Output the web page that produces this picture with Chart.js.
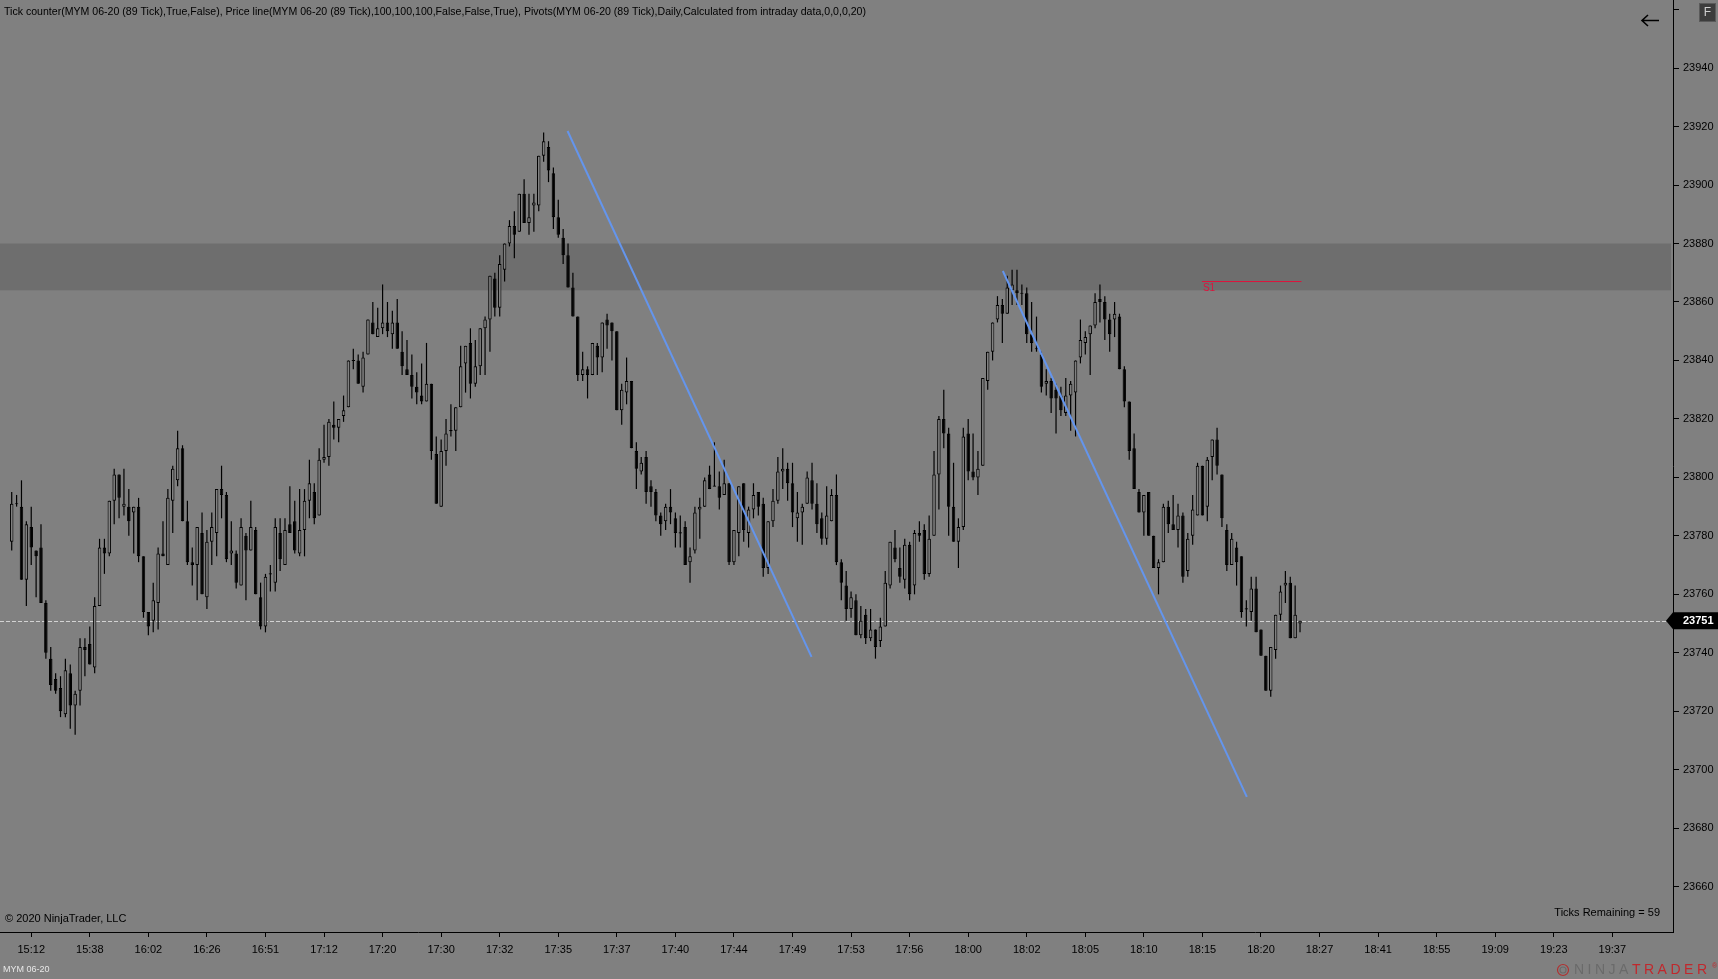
<!DOCTYPE html>
<html><head><meta charset="utf-8">
<script src="https://cdn.jsdelivr.net/npm/chart.js@4.4.1/dist/chart.umd.min.js"></script>
<style>html,body{margin:0;padding:0;background:#808080;overflow:hidden}canvas{display:block}</style>
</head><body>
<canvas id="c" width="1718" height="979"></canvas>
<script>
// ---- data (MYM 06-20, 89 tick bars) ----
const opens = [23778,23791,23790,23765,23783,23775,23776,23757,23738,23731,23728,23719,23733,23722,23727,23742,23743,23735,23756,23776,
23774,23792,23801,23790,23790,23788,23790,23773,23754,23751,23757,23774,23770,23792,23799,23810,23785,23771,23770,23781,
23759,23778,23781,23796,23794,23774,23774,23763,23780,23775,23782,23759,23749,23767,23764,23781,23770,23784,23785,23774,
23782,23792,23795,23787,23806,23807,23818,23817,23821,23824,23840,23840,23831,23842,23853,23848,23851,23853,23849,23853,
23843,23837,23835,23831,23828,23826,23832,23808,23790,23809,23816,23816,23824,23839,23846,23832,23838,23851,23854,23868,
23858,23871,23880,23886,23884,23897,23887,23893,23893,23910,23913,23904,23889,23882,23876,23865,23855,23835,23837,23835,
23845,23841,23854,23853,23850,23823,23829,23833,23809,23802,23807,23797,23795,23787,23785,23790,23786,23781,23783,23771,
23775,23789,23790,23801,23797,23797,23794,23798,23771,23781,23798,23781,23789,23795,23791,23769,23785,23792,23802,23803,
23798,23786,23788,23791,23799,23791,23786,23779,23785,23794,23771,23763,23755,23758,23746,23753,23745,23748,23744,23749,
23763,23776,23769,23765,23777,23763,23781,23782,23767,23780,23801,23820,23815,23790,23778,23783,23815,23802,23800,23804,
23833,23843,23854,23859,23856,23864,23864,23863,23863,23849,23844,23842,23832,23833,23830,23828,23822,23828,23829,23841,
23846,23849,23852,23861,23860,23854,23854,23855,23837,23826,23810,23795,23788,23795,23780,23769,23771,23790,23784,23782,
23787,23768,23780,23787,23804,23790,23807,23813,23801,23782,23770,23776,23773,23755,23754,23762,23748,23739,23727,23741,
23753,23763,23764,23745,23750];
const highs = [23795,23794,23799,23785,23790,23775,23784,23758,23742,23733,23732,23738,23736,23727,23745,23745,23749,23759,23779,23779,
23792,23803,23801,23803,23796,23790,23793,23773,23754,23764,23776,23785,23796,23804,23816,23811,23792,23776,23783,23788,
23782,23788,23796,23804,23795,23785,23775,23786,23781,23792,23783,23764,23767,23770,23786,23786,23786,23797,23792,23796,
23796,23806,23798,23810,23818,23820,23826,23820,23828,23840,23844,23842,23843,23854,23860,23858,23866,23860,23857,23861,
23850,23847,23842,23836,23839,23846,23832,23814,23813,23820,23825,23824,23845,23845,23851,23847,23851,23855,23869,23870,
23876,23880,23888,23891,23897,23902,23897,23897,23910,23918,23915,23906,23895,23885,23880,23870,23855,23843,23838,23846,
23846,23853,23856,23853,23850,23832,23841,23833,23812,23807,23809,23799,23796,23788,23791,23796,23788,23787,23785,23776,
23790,23793,23800,23804,23812,23802,23806,23798,23782,23797,23798,23790,23798,23795,23793,23785,23796,23807,23810,23805,
23805,23795,23791,23802,23805,23798,23788,23797,23796,23801,23772,23768,23761,23760,23756,23755,23755,23748,23752,23768,
23778,23782,23776,23779,23778,23782,23785,23784,23787,23809,23821,23830,23817,23805,23786,23817,23820,23815,23809,23834,
23843,23853,23862,23861,23869,23871,23871,23866,23865,23860,23855,23843,23837,23834,23832,23831,23834,23833,23840,23854,
23850,23852,23863,23866,23862,23856,23860,23856,23838,23826,23815,23796,23794,23795,23780,23772,23791,23792,23794,23791,
23788,23781,23794,23805,23804,23807,23813,23817,23801,23784,23781,23778,23773,23758,23766,23766,23748,23739,23742,23753,
23763,23768,23766,23763,23751];
const lows = [23775,23790,23765,23756,23770,23759,23757,23738,23727,23726,23718,23718,23714,23712,23722,23732,23736,23733,23756,23767,
23773,23784,23786,23787,23780,23774,23771,23752,23746,23747,23748,23773,23770,23781,23797,23785,23770,23763,23758,23760,
23755,23770,23773,23786,23771,23770,23762,23763,23758,23775,23760,23748,23747,23761,23761,23768,23770,23781,23774,23773,
23773,23786,23784,23787,23805,23804,23813,23812,23819,23824,23837,23832,23829,23842,23849,23848,23849,23848,23844,23844,
23835,23835,23827,23825,23825,23826,23806,23791,23790,23804,23814,23809,23824,23829,23827,23831,23835,23835,23843,23855,
23855,23867,23879,23875,23884,23887,23883,23884,23891,23908,23901,23885,23882,23873,23865,23855,23833,23833,23827,23835,
23835,23836,23844,23840,23823,23818,23825,23810,23796,23801,23791,23790,23785,23780,23782,23784,23776,23776,23770,23764,
23774,23779,23790,23796,23797,23789,23794,23770,23770,23773,23778,23776,23786,23787,23766,23767,23783,23791,23796,23792,
23783,23778,23777,23791,23789,23781,23777,23777,23785,23770,23758,23751,23752,23746,23745,23743,23744,23738,23742,23749,
23762,23771,23764,23762,23758,23760,23778,23765,23766,23780,23789,23810,23780,23778,23769,23782,23799,23799,23794,23804,
23830,23840,23853,23846,23856,23859,23859,23859,23846,23843,23843,23829,23828,23822,23815,23821,23821,23816,23814,23839,
23842,23835,23851,23853,23847,23843,23848,23837,23824,23806,23796,23788,23780,23780,23769,23760,23771,23781,23782,23776,
23764,23766,23777,23787,23787,23785,23799,23801,23783,23768,23770,23763,23752,23749,23751,23747,23739,23727,23725,23738,
23751,23757,23745,23745,23747];
const closes = [23791,23791,23765,23784,23776,23773,23757,23740,23729,23727,23720,23734,23722,23726,23742,23741,23736,23756,23776,23774,
23792,23801,23793,23791,23785,23790,23773,23754,23749,23758,23774,23773,23793,23803,23810,23785,23771,23770,23783,23760,
23778,23783,23796,23794,23772,23775,23764,23783,23775,23783,23760,23749,23766,23767,23783,23772,23782,23781,23775,23782,
23792,23798,23786,23806,23807,23819,23817,23820,23823,23840,23840,23832,23841,23854,23849,23851,23853,23850,23853,23844,
23838,23835,23831,23829,23826,23832,23809,23791,23809,23815,23816,23824,23838,23845,23832,23838,23851,23854,23869,23858,
23873,23880,23886,23883,23897,23887,23889,23894,23910,23915,23905,23889,23883,23876,23865,23855,23835,23837,23835,23846,
23841,23853,23852,23850,23823,23830,23833,23810,23803,23805,23795,23795,23787,23784,23790,23788,23781,23781,23770,23773,
23788,23790,23799,23796,23797,23793,23798,23771,23782,23797,23782,23789,23794,23790,23769,23785,23792,23802,23803,23798,
23788,23788,23790,23800,23791,23784,23779,23787,23794,23771,23764,23755,23759,23746,23751,23745,23748,23742,23749,23764,
23778,23772,23766,23777,23760,23781,23780,23767,23779,23801,23820,23815,23790,23778,23783,23814,23802,23800,23803,23834,
23843,23853,23859,23856,23865,23866,23863,23863,23849,23846,23844,23831,23833,23827,23827,23823,23828,23832,23840,23847,
23848,23852,23860,23860,23854,23849,23856,23837,23826,23809,23796,23788,23794,23780,23769,23771,23790,23784,23782,23787,
23766,23779,23789,23804,23787,23806,23813,23804,23786,23770,23779,23771,23754,23755,23762,23747,23739,23727,23742,23753,
23761,23764,23745,23753,23751];

const timeLabels = ['15:12','15:38','16:02','16:26','16:51','17:12','17:20','17:30','17:32','17:35','17:37','17:40','17:44','17:49',
'17:53','17:56','18:00','18:02','18:05','18:10','18:15','18:20','18:27','18:41','18:55','19:09','19:23','19:37'];
const timeTickIndex = [4,16,28,40,52,64,76,88,100,112,124,136,148,160,172,184,196,208,220,232,244,256,268,280,292,304,316,328];
const priceTicks = [23660,23680,23700,23720,23740,23760,23780,23800,23820,23840,23860,23880,23900,23920,23940,23960];

const trendLine1 = [{x:113.9, y:23918.5}, {x:163.9, y:23738.6}];
const trendLine2 = [{x:203.1, y:23870.6}, {x:253.1, y:23690.7}];
const pivotS1 = [{x:243.9, y:23867}, {x:264.3, y:23867}];
const zoneLow = 23864, zoneHigh = 23880;
const lastPrice = 23751;
const ticksRemaining = 59;

// ---- build library structures ----
const wickData = opens.map((o, i) => ({x: i, y: [lows[i], highs[i]]}));
const bodyData = opens.map((o, i) => {
  let a = o, b = closes[i];
  if (a === b) { a -= 0.2; b += 0.2; }
  return {x: i, y: [a, b]};
});
const bodyFill = opens.map((o, i) => closes[i] > o ? '#808080' : '#000000');

const FONT = '"Liberation Sans", Arial, sans-serif';
Chart.defaults.font.family = FONT;
Chart.defaults.font.size = 11;
Chart.defaults.color = '#000';

const decor = {
  id: 'decor',
  beforeDraw(chart) {
    const ctx = chart.ctx;
    ctx.save();
    ctx.fillStyle = '#808080';
    ctx.fillRect(0, 0, chart.width, chart.height);
    ctx.restore();
  },
  beforeDatasetsDraw(chart) {
    const {ctx, chartArea: a, scales: {y}} = chart;
    const t = y.getPixelForValue(zoneHigh), b = y.getPixelForValue(zoneLow);
    ctx.save();
    ctx.fillStyle = '#6e6e6e';
    ctx.fillRect(a.left, t, a.right - a.left - 2, b - t);
    const py = Math.round(y.getPixelForValue(lastPrice)) + 0.5;
    ctx.strokeStyle = '#d2d2d2';
    ctx.lineWidth = 1;
    ctx.setLineDash([4, 2]);
    ctx.beginPath(); ctx.moveTo(a.left, py); ctx.lineTo(a.right - 6, py); ctx.stroke();
    ctx.restore();
  },
  afterDraw(chart) {
    const {ctx, chartArea: a, scales: {x, y}} = chart;
    ctx.save();
    // title
    const title = 'Tick counter(MYM 06-20 (89 Tick),True,False), Price line(MYM 06-20 (89 Tick),100,100,100,False,False,True), Pivots(MYM 06-20 (89 Tick),Daily,Calculated from intraday data,0,0,0,20)';
    ctx.font = '11px ' + FONT;
    ctx.fillStyle = '#000';
    ctx.textBaseline = 'middle';
    ctx.textAlign = 'left';
    const w = ctx.measureText(title).width;
    ctx.save();
    ctx.translate(4, 11.5);
    ctx.scale(862 / w, 1);
    ctx.fillText(title, 0, 0);
    ctx.restore();
    // footer texts
    ctx.fillText('\u00A9 2020 NinjaTrader, LLC', 5, 919);
    ctx.textAlign = 'right';
    ctx.fillText('Ticks Remaining = ' + ticksRemaining, 1660, 913);
    ctx.textAlign = 'left';
    ctx.font = '9px ' + FONT;
    ctx.fillStyle = '#e6e6e6';
    ctx.fillText('MYM 06-20', 3, 970);
    // S1 label
    ctx.font = '10px ' + FONT;
    ctx.fillStyle = '#dc143c';
    ctx.fillText('S1', x.getPixelForValue(pivotS1[0].x) + 1, y.getPixelForValue(pivotS1[0].y) + 7);
    // price marker
    const py = y.getPixelForValue(lastPrice);
    ctx.fillStyle = '#000';
    ctx.beginPath();
    ctx.moveTo(1666, py); ctx.lineTo(1673, py - 8.5); ctx.lineTo(1718, py - 8.5);
    ctx.lineTo(1718, py + 8.5); ctx.lineTo(1673, py + 8.5); ctx.closePath(); ctx.fill();
    ctx.fillStyle = '#fff';
    ctx.font = 'bold 11px ' + FONT;
    ctx.fillText(String(lastPrice), 1683, py + 0.5);
    // F button
    ctx.fillStyle = '#3c3c3c';
    ctx.fillRect(1699, 3, 17, 19);
    ctx.strokeStyle = '#5a5a5a';
    ctx.lineWidth = 1;
    ctx.strokeRect(1699.5, 3.5, 16, 18);
    ctx.fillStyle = '#cfcfcf';
    ctx.font = '12px ' + FONT;
    ctx.textAlign = 'center';
    ctx.fillText('F', 1707.5, 13);
    // back arrow
    ctx.strokeStyle = '#000';
    ctx.lineWidth = 1.6;
    ctx.beginPath();
    ctx.moveTo(1642, 20.5); ctx.lineTo(1659, 20.5);
    ctx.moveTo(1648, 15); ctx.lineTo(1642, 20.5); ctx.lineTo(1648, 26);
    ctx.stroke();
    // logo
    ctx.textAlign = 'left';
    ctx.font = '14px ' + FONT;
    if ('letterSpacing' in ctx) ctx.letterSpacing = '3.5px';
    ctx.fillStyle = '#6a6a6a';
    ctx.fillText('NINJA', 1574, 970);
    const nw = ctx.measureText('NINJA').width;
    ctx.fillStyle = '#c0282d';
    ctx.fillText('TRADER', 1574 + nw, 970);
    if ('letterSpacing' in ctx) ctx.letterSpacing = '0px';
    ctx.font = '7px ' + FONT;
    ctx.fillText('\u00AE', 1712, 966);
    ctx.strokeStyle = '#b03030';
    ctx.lineWidth = 1.2;
    ctx.beginPath(); ctx.arc(1563, 970, 5.5, 0, Math.PI * 2); ctx.stroke();
    ctx.strokeStyle = '#6a6a6a';
    ctx.beginPath(); ctx.arc(1563, 970, 3, 0, Math.PI * 2); ctx.stroke();
    ctx.restore();
  }
};

new Chart(document.getElementById('c'), {
  type: 'bar',
  data: {
    datasets: [
      {type: 'line', data: trendLine1, borderColor: '#6495ed', borderWidth: 2, pointRadius: 0, order: 1, fill: false},
      {type: 'line', data: trendLine2, borderColor: '#6495ed', borderWidth: 2, pointRadius: 0, order: 1, fill: false},
      {type: 'line', data: pivotS1, borderColor: '#dc143c', borderWidth: 1, pointRadius: 0, order: 1, fill: false},
      {data: bodyData, backgroundColor: bodyFill, borderColor: '#000', borderWidth: 1, borderSkipped: false,
       barThickness: 3.5, grouped: false, inflateAmount: 0, order: 2},
      {data: wickData, backgroundColor: '#000', borderWidth: 0, barThickness: 1.2, grouped: false, inflateAmount: 0, order: 3}
    ]
  },
  options: {
    animation: false,
    responsive: false,
    devicePixelRatio: 1,
    layout: {padding: 0},
    events: [],
    plugins: {legend: {display: false}, tooltip: {enabled: false}},
    scales: {
      x: {
        type: 'linear', position: 'bottom', min: -2.4, max: 340.43, offset: false,
        afterBuildTicks(a) { a.ticks = timeTickIndex.map(v => ({value: v})); },
        afterFit(a) { a.height = 47; a.paddingLeft = 0; a.paddingRight = 0; },
        ticks: {autoSkip: false, maxRotation: 0, padding: 6, color: '#000', font: {size: 11},
                callback: (v, i) => timeLabels[i]},
        grid: {offset: false, drawOnChartArea: false, drawTicks: true, tickLength: 5, color: '#000'},
        border: {display: true, color: '#000', width: 1}
      },
      y: {
        type: 'linear', position: 'right', min: 23644.5, max: 23963.3,
        afterBuildTicks(a) { a.ticks = priceTicks.map(v => ({value: v})); },
        afterFit(a) { a.width = 45; a.paddingTop = 0; a.paddingBottom = 0; },
        ticks: {padding: 4, color: '#000', font: {size: 11},
                callback: v => (v === 23960 ? '' : String(v))},
        grid: {drawOnChartArea: false, drawTicks: true, tickLength: 6, color: '#000'},
        border: {display: true, color: '#000', width: 1}
      }
    }
  },
  plugins: [decor]
});
</script>
</body></html>
